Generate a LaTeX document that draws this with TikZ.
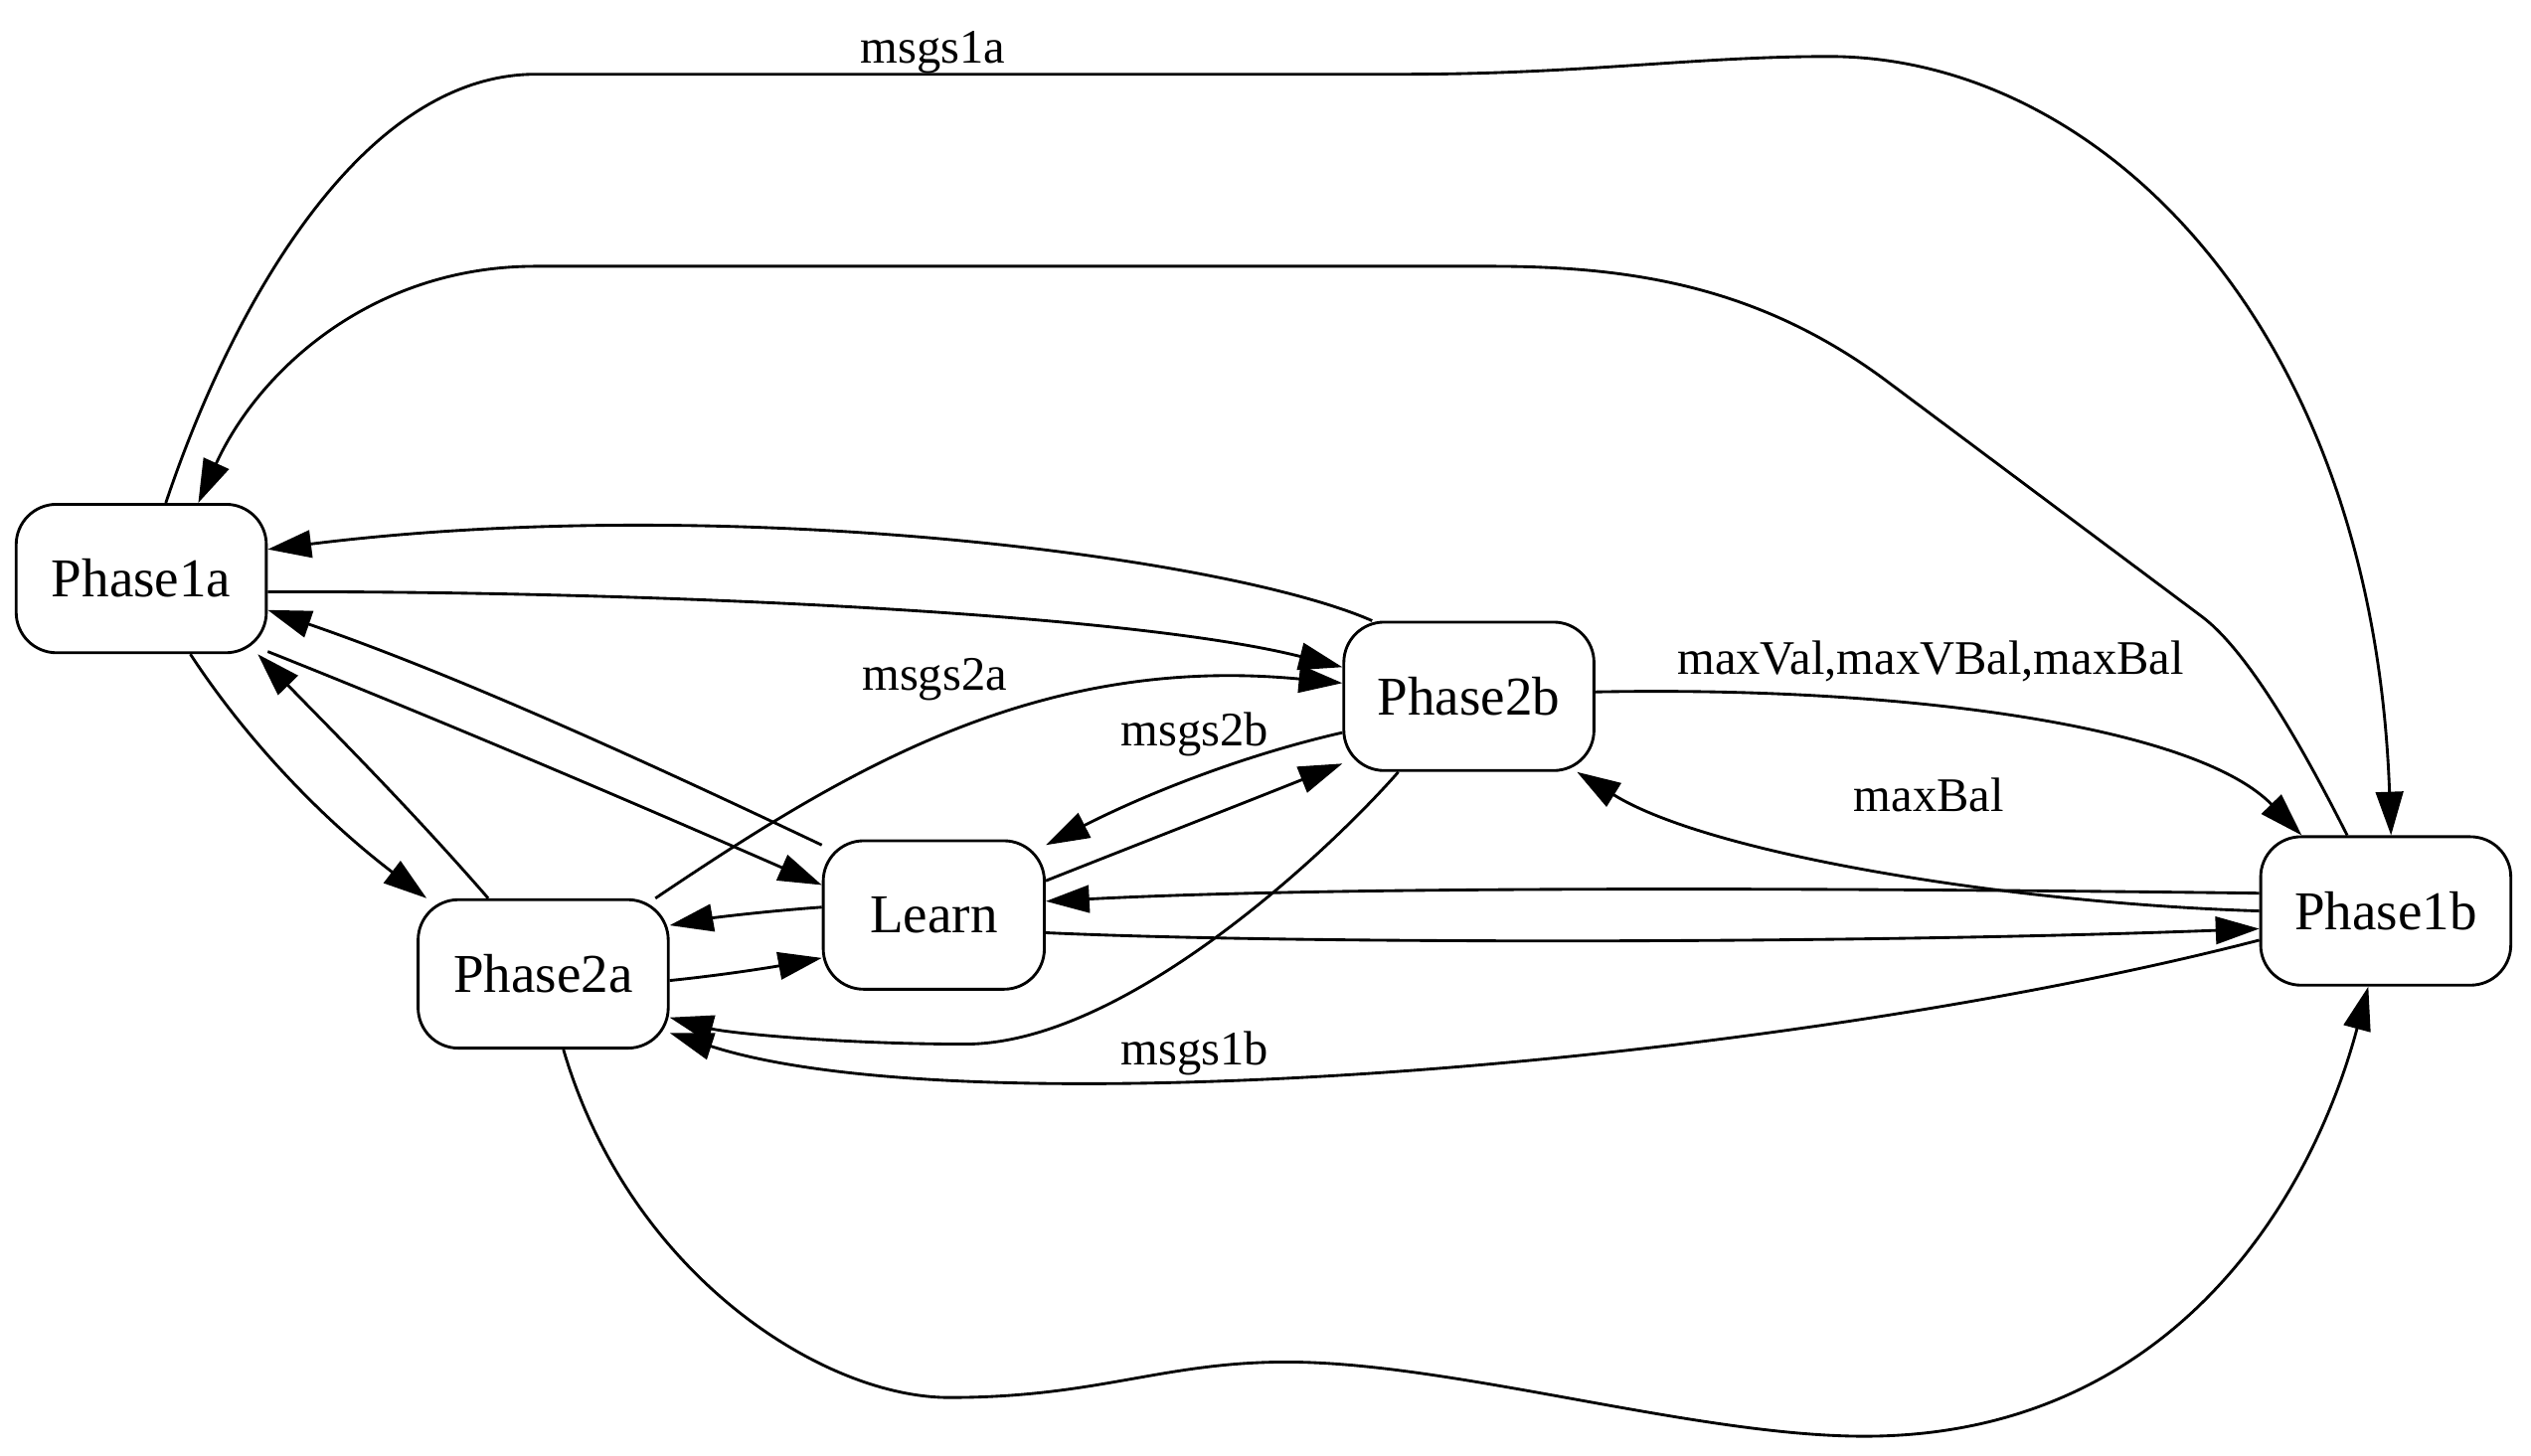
\documentclass[tikz,border=0pt]{standalone}
\usepackage{fontspec}
\setmainfont{Liberation Serif}
\usetikzlibrary{arrows.meta}
\tikzset{
  phase/.style={draw, line width=1pt, rounded corners=0.5cm, minimum width=3.1cm,
    minimum height=1.84cm, inner sep=0pt, font=\fontsize{19.3}{23}\selectfont},
  trans/.style={line width=1pt, -{Triangle[length=0.54cm,width=0.34cm]}},
  lbl/.style={inner sep=0pt, anchor=base, font=\fontsize{17}{20}\selectfont}
}
\begin{document}
\begin{tikzpicture}[x=0.02cm,y=-0.02cm]
  \useasboundingbox[fill=white] (0,0) rectangle (1568,902);
  % States
  \node[phase] (p1a) at (87.5,358.5) {Phase1a};
  \node[phase] (p2a) at (336.5,603.5) {Phase2a};
  \node[phase, minimum width=2.74cm] (learn) at (578.5,567) {Learn};
  \node[phase] (p2b) at (910,431.5) {Phase2b};
  \node[phase] (p1b) at (1478,564.5) {Phase1b};
  % Labels
  \node[lbl] (lmsgs1a) at (578,39) {msgs1a};
  \node[lbl] (lmsgs2a) at (579,428) {msgs2a};
  \node[lbl] (lmsgs2b) at (740,462) {msgs2b};
  \node[lbl] (lmsgs1b) at (740,660) {msgs1b};
  \node[lbl] (lmaxall) at (1196,417.6) {maxVal,maxVBal,maxBal};
  \node[lbl] (lmaxbal) at (1195,502.6) {maxBal};
  % Outer loops
  \draw[trans] (p1a.72) .. controls (140,200) and (220,46) .. (332,46) -- (870,46)
    .. controls (980,46) and (1050,35) .. (1133,35)
    .. controls (1300,35) and (1470,200) .. (p1b.86);
  \draw[trans] (p1b.117) .. controls (1425,460) and (1392,403) .. (1364,382) -- (1170,237)
    .. controls (1090,177) and (1010,165) .. (923,165) -- (332,165)
    .. controls (230,165) and (160,230) .. (p1a.53);
  \draw[trans] (p2a.-75) .. controls (390,790) and (510,866) .. (588,866)
    .. controls (680,866) and (720,844) .. (797,844)
    .. controls (900,844) and (1050,890) .. (1155,890)
    .. controls (1340,890) and (1430,750) .. (p1b.-103.5);
  % Phase1a
  \draw[trans] (p2b.142.5) .. controls (760,345) and (450,305) .. (p1a.13.8);
  \draw[trans] (p1a.-6.3) .. controls (400,366) and (700,380) .. (p2b.167);
  \draw[trans] (learn.148.5) .. controls (396,470) and (282,418) .. (p1a.-14.8);
  \draw[trans] (p1a.-30) .. controls (282,450) and (396,499) .. (learn.165.7);
  \draw[trans] (p1a.-57) .. controls (155,462) and (203,510) .. (p2a.147);
  \draw[trans] (p2a.126.6) .. controls (255,502) and (205,452) .. (p1a.-33.6);
  % Phase2a and Learn
  \draw[trans] (p2a.-3.5) .. controls (450,604) and (480,599) .. (learn.201.5);
  \draw[trans] (learn.176) .. controls (470,565) and (440,569) .. (p2a.21);
  \draw[trans] (p2a.34) .. controls (520,480) and (640,405) .. (p2b.174);
  \draw[trans] (p2b.196.4) .. controls (770,468) and (710,492) .. (learn.32);
  \draw[trans] (learn.17) .. controls (708,522) and (767,499) .. (p2b.208.3);
  \draw[trans] (p2b.227.6) .. controls (830,520) and (700,647) .. (598,647)
    .. controls (520,647) and (450,640) .. (p2a.-19);
  % Phase1b
  \draw[trans] (p1b.193.7) .. controls (1100,660) and (600,700) .. (p2a.-25.5);
  \draw[trans] (p2b.2) .. controls (1180,425) and (1360,450) .. (p1b.138);
  \draw[trans] (p1b.180) .. controls (1250,560) and (1060,530) .. (p2b.-35.7);
  \draw[trans] (p1b.172) .. controls (1200,551) and (850,548) .. (learn.7.5);
  \draw[trans] (learn.-9) .. controls (800,585) and (1150,585) .. (p1b.188);
\end{tikzpicture}
\end{document}
